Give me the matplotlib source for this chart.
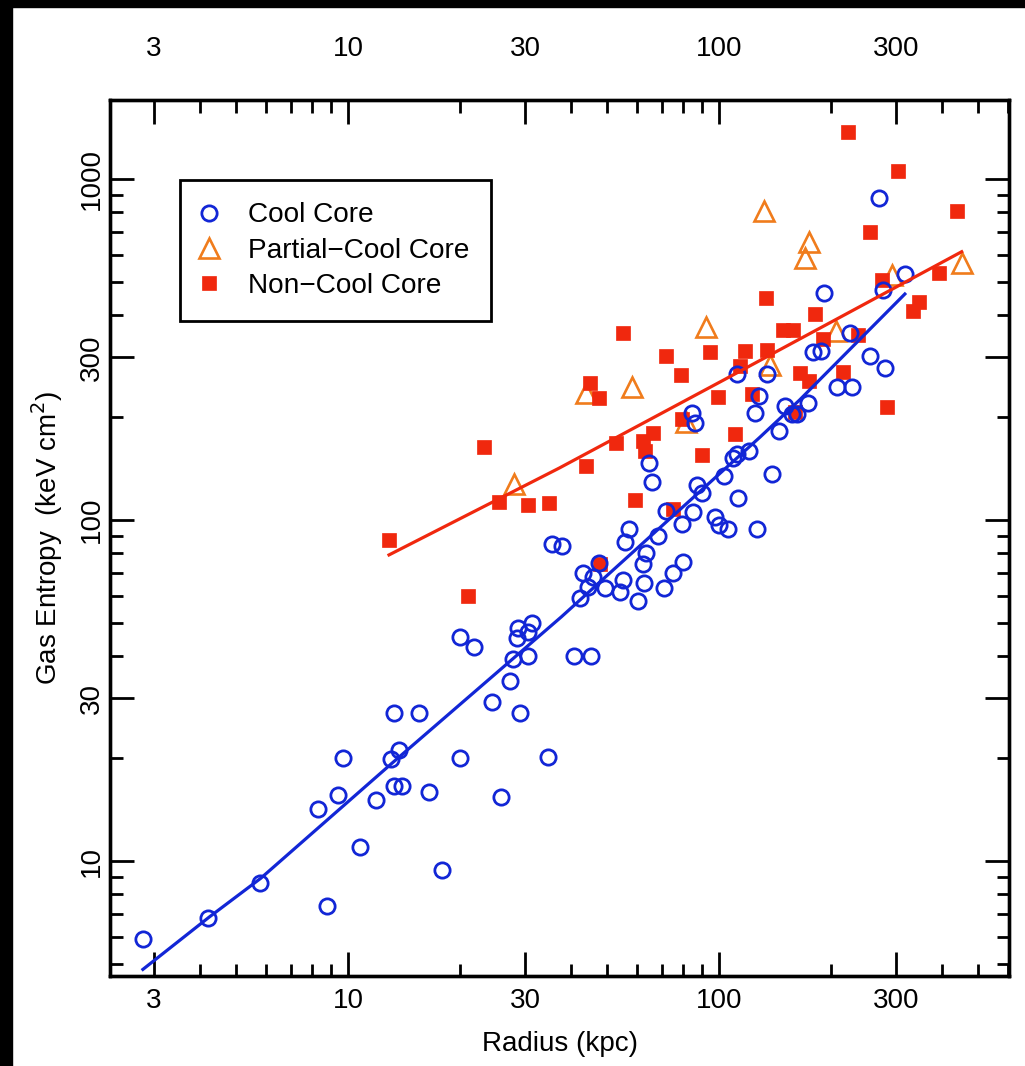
import numpy as np
import matplotlib.pyplot as plt
from matplotlib.patches import Rectangle
from matplotlib.ticker import FixedLocator, LogLocator, NullFormatter, FuncFormatter

plt.rcParams['font.family'] = ['Liberation Sans', 'DejaVu Sans']

# cool core clusters: radius (kpc), entropy (keV cm^2)
cc_r = [2.8, 4.2, 5.8, 8.8, 10.8, 8.3, 9.4, 9.7, 11.9, 13.1, 13.7, 13.3, 13.3, 14.0,
        15.5, 16.5, 17.9, 20.0, 21.8, 20.0, 25.9, 24.4, 27.3, 29.1, 34.5, 27.8, 30.6,
        28.5, 28.8, 31.3, 30.6, 40.7, 45.1, 35.4, 37.7, 43.1, 42.2, 45.8, 44.4, 49.3,
        55.0, 54.1, 60.4, 55.8, 57.3, 62.9, 62.5, 63.6, 68.7, 71.3, 75.4, 80.2, 72.0,
        79.6, 85.3, 87.5, 89.8, 65.9, 64.9, 84.4, 86.1, 97.5, 100, 105.9, 112.7, 126.4,
        103.3, 109.3, 111.6, 120.7, 125.0, 128, 150.6, 157, 162, 174.1, 145.1, 139.3,
        207.6, 227.8, 270, 317, 276, 192, 225, 179.5, 187.9, 255, 280, 111.6, 134.5, 47.5]
cc_k = [5.9, 6.8, 8.6, 7.4, 11.0, 14.2, 15.6, 20.1, 15.1, 19.9, 21.1, 27.2, 16.6, 16.6,
        27.2, 15.9, 9.4, 45.5, 42.5, 20.0, 15.4, 29.2, 33.8, 27.1, 20.2, 39.0, 39.9,
        45.0, 48.1, 49.8, 47.1, 39.9, 39.9, 84.8, 84.0, 70.0, 58.9, 68.2, 63.7, 63.0,
        66.7, 61.6, 58.0, 86.4, 93.9, 65.5, 74.3, 80.2, 89.8, 63.0, 70.1, 75.4, 106.5,
        97.3, 105.8, 126.6, 119.7, 129.0, 146.6, 205.6, 192.2, 102.3, 96.7, 93.9, 115.8, 94.1,
        134.6, 151.7, 156.2, 159.7, 205.6, 231, 216, 205, 204, 219.9, 182.8, 136.1,
        245, 245, 877, 526, 472, 462, 353, 312, 314, 303, 279, 268, 268, 74.6]

# partial cool core clusters
pcc_r = [28.1, 43.9, 58.2, 81.5, 92.3, 132.6, 137.3, 170.6, 174.8, 206.8, 292, 451]
pcc_k = [127.5, 236, 245, 194, 367, 807, 285, 585, 655, 359, 523, 568]

# non-cool core clusters
ncc_r = [12.9, 21.0, 23.2, 25.6, 30.6, 34.9, 43.8, 44.9, 47.6, 47.8, 52.7, 55.0, 59.4,
         62.5, 63.3, 66.3, 72.0, 75.3, 78.9, 79.3, 90.2, 94.6, 99.6, 110.4, 113.9, 117.5,
         122.6, 134.5, 133.9, 148.4, 157.9, 160, 165.3, 175.2, 181.5, 191.1, 215.4, 222.3,
         237.4, 255.3, 274.5, 283, 303, 334, 345, 393, 437]
ncc_k = [87.4, 60, 164, 113, 111, 112, 144, 252, 228, 74.3, 168, 353, 114.5,
         170, 159, 180, 303, 108, 266, 198, 155, 310, 229, 179, 282, 314,
         234, 315, 447, 361, 361, 207, 269, 255, 402, 339, 272, 1377,
         349, 701, 506, 214, 1056, 411, 437, 531, 807]

# smoothed trends
cc_fit_r = [2.8, 4.22, 5.82, 13.1, 37.6, 129, 165, 317]
cc_fit_k = [4.81, 6.84, 8.9, 19.3, 52, 175, 225, 460]
ncc_fit_r = [12.9, 37.1, 102.7, 451]
ncc_fit_k = [79, 142, 257, 612]

blue = '#1226d6'
red = '#f0280e'
orange = '#f07c1c'

fig = plt.figure(figsize=(10.25, 10.66), dpi=100)
fig.patches.append(Rectangle((0, 0), 12 / 1025, 1, transform=fig.transFigure,
                             color='black', zorder=-1))
fig.patches.append(Rectangle((0, 1 - 7 / 1066), 1, 7 / 1066, transform=fig.transFigure,
                             color='black', zorder=-1))

ax = fig.add_axes([110 / 1025, 1 - 976 / 1066, 899 / 1025, 876 / 1066])

ax.plot(pcc_r, pcc_k, ls='none', marker='^', ms=15, mfc='none', mec=orange, mew=1.9)
ax.plot(ncc_r, ncc_k, ls='none', marker='s', ms=10, mfc=red, mec=red, mew=0.5)
ax.plot(cc_r, cc_k, ls='none', marker='o', ms=11, mfc='none', mec=blue, mew=2.0)
ax.plot(ncc_fit_r, ncc_fit_k, color=red, lw=2.3)
ax.plot(cc_fit_r, cc_fit_k, color=blue, lw=2.3)

ax.set_xscale('log')
ax.set_yscale('log')
ax.set_xlim(2.283, 605)
ax.set_ylim(4.60, 1705)

fmt = FuncFormatter(lambda v, p: f'{v:g}')
ax.xaxis.set_major_locator(FixedLocator([3, 10, 30, 100, 300]))
ax.yaxis.set_major_locator(FixedLocator([10, 30, 100, 300, 1000]))
for a in (ax.xaxis, ax.yaxis):
    a.set_major_formatter(fmt)
    a.set_minor_locator(LogLocator(base=10, subs=np.arange(2, 10)))
    a.set_minor_formatter(NullFormatter())

ax.tick_params(which='both', direction='in', width=2, top=False, right=True,
               labelsize=20)
ax.tick_params(which='major', length=17)
ax.tick_params(which='minor', length=9)
ax.tick_params(axis='x', pad=9)
ax.tick_params(axis='y', pad=4, labelrotation=90)
for lab in ax.get_yticklabels():
    lab.set_va('center')

# top axis repeats the radius ticks
ax2 = ax.twiny()
ax2.set_xscale('log')
ax2.set_xlim(ax.get_xlim())
ax2.xaxis.set_major_locator(FixedLocator([3, 10, 30, 100, 300]))
ax2.xaxis.set_major_formatter(fmt)
ax2.xaxis.set_minor_locator(LogLocator(base=10, subs=np.arange(2, 10)))
ax2.xaxis.set_minor_formatter(NullFormatter())
ax2.tick_params(which='both', direction='in', width=2, labelsize=20, pad=27)
ax2.tick_params(which='major', length=17)
ax2.tick_params(which='minor', length=9)

for s in list(ax.spines.values()) + list(ax2.spines.values()):
    s.set_linewidth(2.4)

ax.set_xlabel('Radius (kpc)', fontsize=20, labelpad=12)
ax.set_ylabel('Gas Entropy  (keV cm$^2$)', fontsize=20, labelpad=10)

leg = ax.legend([ax.lines[2], ax.lines[0], ax.lines[1]],
                ['Cool Core', 'Partial\u2212Cool Core', 'Non\u2212Cool Core'],
                loc='upper left', bbox_to_anchor=(0.0779, 0.9087), borderaxespad=0,
                fontsize=20.2, fancybox=False, edgecolor='black', framealpha=1,
                borderpad=0.8, labelspacing=0.33, handlelength=0.44, handletextpad=1.17)
leg.get_frame().set_linewidth(2)

fig.savefig('out.png', dpi=100)
